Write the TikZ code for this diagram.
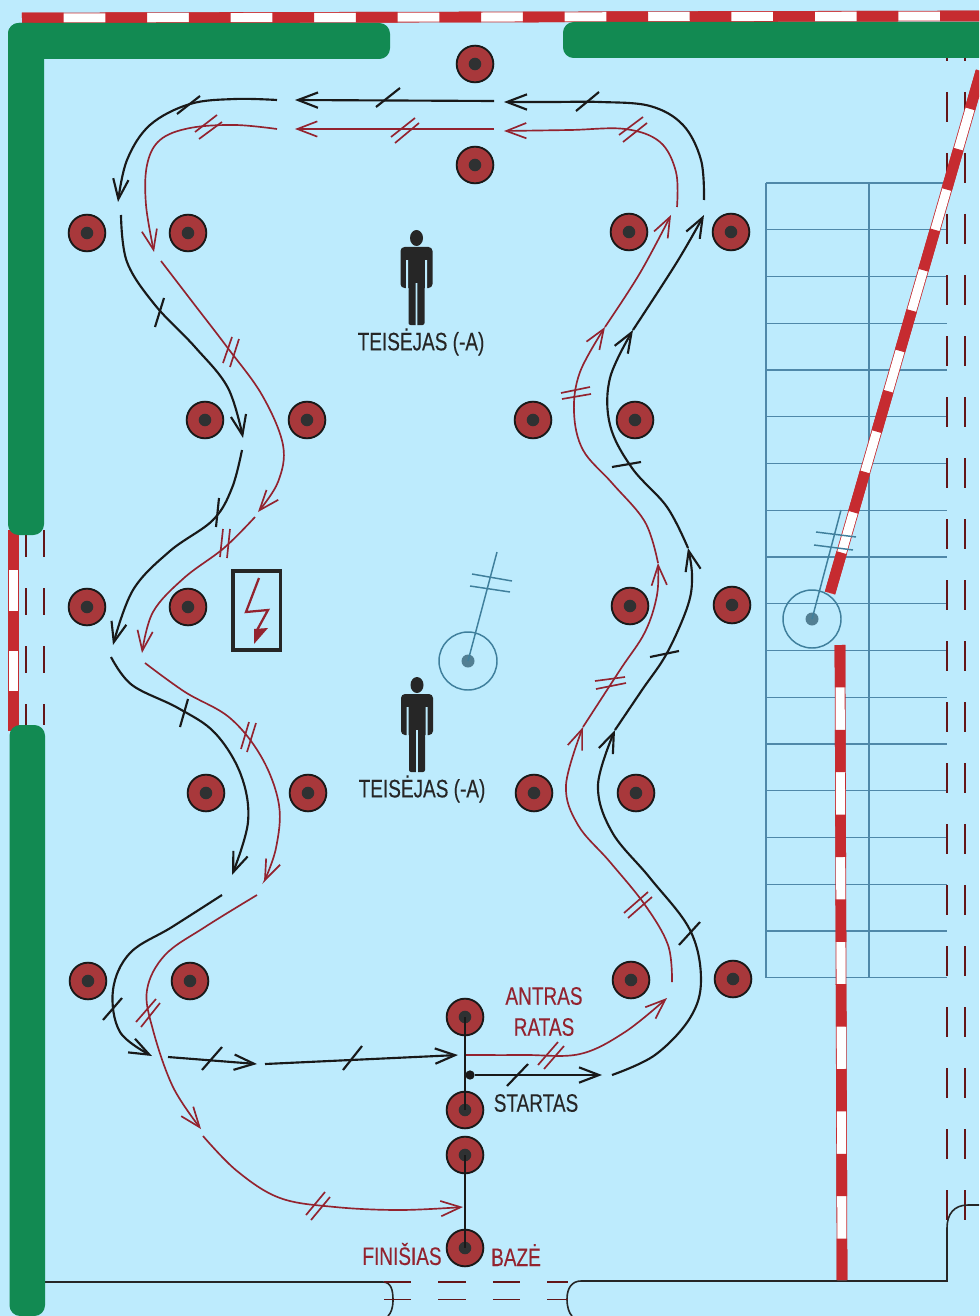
\documentclass[tikz,border=0pt]{standalone}
\usepackage{fontspec}
\setmainfont[FakeStretch=0.75,FakeBold=0.2]{Liberation Sans}
\usetikzlibrary{arrows.meta}
\definecolor{hallblue}{HTML}{BDEBFD}
\definecolor{wallgreen}{HTML}{128A52}
\definecolor{barred}{HTML}{C62B30}
\definecolor{conered}{HTML}{A8383B}
\definecolor{conedark}{HTML}{2F3132}
\definecolor{laptwored}{HTML}{93232F}
\definecolor{gridblue}{HTML}{4F88A9}
\definecolor{gatehue}{HTML}{3F7F9C}
\tikzset{
  wall/.style={fill=wallgreen, rounded corners=8pt},
  barrieredge/.style={barred, line width=8pt},
  barrierwhite/.style={white, line width=6.8pt},
  barrierred/.style={barred, line width=8pt, dash pattern=on #1pt off #1pt},
  gridline/.style={gridblue, line width=0.95pt},
  sideline/.style={barred!50!black, line width=0.85pt},
  outline/.style={black!85, line width=1.2pt},
  cone/.style={circle, draw=black!90, line width=1.4pt, fill=conered, minimum size=27.5pt, inner sep=0pt,
    path picture={\fill[conedark] (path picture bounding box.center) circle (4.7pt);}},
  lapone/.style={black!90, line width=1.6pt, >={Straight Barb[length=15pt,width=11.5pt]}},
  laptwo/.style={laptwored, line width=1.25pt, >={Straight Barb[length=15pt,width=11.5pt]}},
  gate/.style={gatehue, line width=1.1pt},
  label/.style={font=\fontsize{19}{21}\selectfont, inner sep=0pt},
  person/.pic={
    \fill[black!85] (0,0) ellipse (6.5 and 8);
    \fill[black!85, rounded corners=3pt] (-16,9) rectangle (16,50);
    \fill[black!85, rounded corners=1.5pt] (-8,30) rectangle (8,87);
    \fill[hallblue] (-10.5,22) rectangle (-8.5,52) (8.5,22) rectangle (10.5,52) (-0.8,45) rectangle (0.8,88);
    \fill[hallblue] (-9,51) rectangle (-18,53) (9,51) rectangle (18,53);
  }
}
\begin{document}
\begin{tikzpicture}[x=0.75pt, y=-0.75pt]
  \useasboundingbox (0,0) rectangle (979,1316);
  \clip (0,0) rectangle (979,1316);
  \fill[hallblue] (0,0) rectangle (979,1316);
  % grid and side lines
  \foreach \n in {0,...,17}
    \draw[gridline] (766,183+46.75*\n) -- (947,183+46.75*\n);
  \draw[gridline] (766,183) -- (766,978);
  \draw[gridline] (869,183) -- (869,978);
  \foreach \x in {947,965}
    \draw[sideline, dash pattern=on 22.5pt off 23.25pt] (\x,31) -- (\x,1220);
  \foreach \x in {26,44}
    \draw[sideline, dash pattern=on 20pt off 23.5pt] (\x,530) -- (\x,725);
  % outline at the bottom
  \draw[outline] (45,1282) -- (383,1282) .. controls (391,1282) and (393,1290) .. (393,1300) .. controls (393,1308) and (391,1313) .. (388,1316);
  \draw[outline] (980,1205) -- (968,1205) .. controls (954,1205) and (947,1214) .. (947,1228) -- (947,1281) -- (581,1281) .. controls (572,1281) and (567,1288) .. (567,1299) .. controls (567,1307) and (569,1313) .. (572,1316);
  \foreach \y in {1282,1299.5}
    \draw[sideline, dash pattern=on 20.4pt off 20.4pt] (384,\y) -- (568,\y);
  % barriers
  \foreach \xa/\ya/\xb/\yb/\p in {22/18/979/16/31.3, 13.5/530/13.5/731/30.2, 830/593/981/71/31.5, 840/645/842/1280/31.8} {
    \draw[barrieredge] (\xa,\ya) -- (\xb,\yb);
    \draw[barrierwhite] (\xa,\ya) -- (\xb,\yb);
    \draw[barrierred=\p] (\xa,\ya) -- (\xb,\yb);
  }
  % walls
  \fill[wall] (8,23) rectangle (390,59);
  \fill[wall] (8,23) rectangle (44,535);
  \fill[wall] (563,22) rectangle (1000,58);
  \fill[wall] (9.5,725) rectangle (45,1316);
  % gates
  \draw[gate] (468,661) circle (29);
  \fill[gate, fill=gatehue!70!gray] (468,661) circle (6.5);
  \draw[gate] (468,661) -- (497,552);
  \draw[gate] (472,574) -- (512,581);
  \draw[gate] (470,586) -- (510,592);
  \draw[gate] (812,619) circle (29);
  \fill[gate, fill=gatehue!70!gray] (812,619) circle (6.5);
  \draw[gate] (812,619) -- (841,510);
  \draw[gate] (816,532) -- (856,537);
  \draw[gate] (814,545) -- (853,550);
  % cones
  \foreach \x/\y [count=\n] in {475/64, 475/165, 87/233, 188/233, 629/232, 731/232, 205/420, 307/420, 533/420, 635/420,
      87/607, 188/607, 630/606, 732/605, 206/793, 308/793, 534/793, 636/793, 88/981, 190/981, 631/980, 733/979,
      465/1017, 465/1110, 465/1155, 465/1248}
    \node[cone] (cone\n) at (\x,\y) {};
  \draw[lapone] (cone23.center) -- (cone24.center);
  \draw[lapone] (cone25.center) -- (cone26.center);
  % judges
  \pic at (416.5,238) {person};
  \pic at (417,685) {person};
  \node[label, black!85] (judgea) at (421,342) {TEISĖJAS (-A)};
  \node[label, black!85] (judgeb) at (422,789) {TEISĖJAS (-A)};
  \node[label, laptwored] (secondlap) at (544,996) {ANTRAS};
  \node[label, laptwored] (secondlapb) at (544,1027) {RATAS};
  \node[label, black!85] (start) at (536,1103) {STARTAS};
  \node[label, laptwored] (finish) at (402,1254) {FINIŠIAS};
  \node[label, laptwored] (base) at (516,1255) {BAZĖ};
  % sign
  \draw[black!85, line width=2.6pt] (233,571) rectangle (280.5,650);
  \draw[laptwored, line width=1.7pt] (259,578) -- (246,612) -- (268,610) -- (256,632);
  \fill[laptwored] (254,644) -- (254,629) -- (268,628) -- cycle;
  % first lap
  \node[circle, fill=black!90, minimum size=7pt, inner sep=0pt] (startdot) at (470,1075) {};
  \coordinate (starttip) at (602,1075);
  \draw[lapone,->] (startdot) -- (starttip);
  \draw[lapone,->] plot[smooth, tension=0.6] coordinates {(612,1075) (655,1055) (690,1018) (701,980) (690,930) (650,878) (612,832) (598,785) (615,730)};
  \draw[lapone,->] plot[smooth, tension=0.6] coordinates {(615,730) (642,690) (667,653) (688,605) (692,575) (688,548)};
  \draw[lapone,->] plot[smooth, tension=0.6] coordinates {(688,548) (667,507) (632,468) (610,425) (610,378) (633,330)};
  \draw[lapone,->] plot[smooth, tension=0.6] coordinates {(633,330) (677,262) (704,215)};
  \draw[lapone,->] plot[smooth, tension=0.6] coordinates {(704,200) (701,160) (683,125) (650,106) (600,102) (552,102) (504,102)};
  \draw[lapone,->] (494,101) -- (295,100);
  \draw[lapone,->] plot[smooth, tension=0.6] coordinates {(277,100) (235,99) (190,104) (150,125) (127,160) (118,202)};
  \draw[lapone,->] plot[smooth, tension=0.6] coordinates {(121,215) (127,262) (155,305) (195,347) (228,388) (243,438)};
  \draw[lapone,->] plot[smooth, tension=0.6] coordinates {(242,450) (232,488) (213,520) (170,551) (133,590) (113,645)};
  \draw[lapone,->] plot[smooth, tension=0.6] coordinates {(111,657) (132,685) (178,708) (215,733) (241,775) (248,822) (232,875)};
  \draw[lapone,->] plot[smooth, tension=0.6] coordinates {(222,895) (172,927) (130,953) (113,990) (120,1032) (152,1056)};
  \draw[lapone,->] (168,1057) -- (257,1064);
  \draw[lapone,->] (265,1064) -- (458,1055);
  \foreach \xa/\ya/\xb/\yb in {507/1086/528/1064, 679/945/700/922, 612/467/641/462, 650/657/679/651, 576/111/599/92, 376/107/400/88,
      177/114/200/96, 155/327/164/298, 216/527/219/498, 180/727/188/699, 103/1020/122/998, 202/1070/222/1047, 343/1070/362/1046}
    \draw[lapone] (\xa,\ya) -- (\xb,\yb);
  % second lap
  \draw[laptwo,->] plot[smooth, tension=0.6] coordinates {(466,1055) (525,1055) (580,1054) (625,1032) (667,998)};
  \draw[laptwo,->] plot[smooth, tension=0.6] coordinates {(672,982) (668,945) (645,905) (610,862) (578,825) (566,785) (583,727)};
  \draw[laptwo,->] plot[smooth, tension=0.6] coordinates {(583,727) (620,670) (645,632) (657,595) (658,563)};
  \draw[laptwo,->] plot[smooth, tension=0.6] coordinates {(658,563) (645,522) (612,483) (583,450) (574,412) (580,372) (605,327)};
  \draw[laptwo,->] plot[smooth, tension=0.6] coordinates {(605,327) (640,273) (671,215)};
  \draw[laptwo,->] plot[smooth, tension=0.6] coordinates {(677,207) (676,172) (660,142) (625,129) (570,130) (504,131)};
  \draw[laptwo,->] (494,129) -- (295,129);
  \draw[laptwo,->] plot[smooth, tension=0.6] coordinates {(277,129) (235,125) (190,128) (160,140) (147,165) (146,205) (154,252)};
  \draw[laptwo,->] plot[smooth, tension=0.6] coordinates {(161,261) (194,304) (227,347) (262,395) (283,445) (278,482) (258,512)};
  \draw[laptwo,->] plot[smooth, tension=0.6] coordinates {(255,517) (224,548) (184,578) (153,612) (142,653)};
  \draw[laptwo,->] plot[smooth, tension=0.6] coordinates {(145,663) (185,692) (230,718) (262,758) (279,805) (276,848) (264,882)};
  \draw[laptwo,->] plot[smooth, tension=0.6] coordinates {(257,895) (205,927) (165,955) (147,990) (153,1030) (173,1087) (201,1129)};
  \draw[laptwo,->] plot[smooth, tension=0.6] coordinates {(203,1136) (237,1171) (280,1198) (335,1207) (400,1210) (463,1207)};
  \foreach \xa/\ya/\xb/\yb in {538/1065/558/1042, 544/1069/564/1046, 624/913/648/892, 628/918/652/897, 595/681/625/677, 596/689/626/683,
      561/393/590/387, 562/399/591/394, 619/135/643/117, 623/142/647/123, 391/137/415/118, 395/143/419/123, 195/132/217/115, 199/139/222/122,
      223/363/232/337, 230/367/239/339, 220/557/223/529, 227/558/230/529, 241/749/249/722, 247/752/256/723, 136/1022/156/999, 141/1027/160/1003,
      306/1215/325/1192, 311/1220/330/1197}
    \draw[laptwo] (\xa,\ya) -- (\xb,\yb);
\end{tikzpicture}
\end{document}
